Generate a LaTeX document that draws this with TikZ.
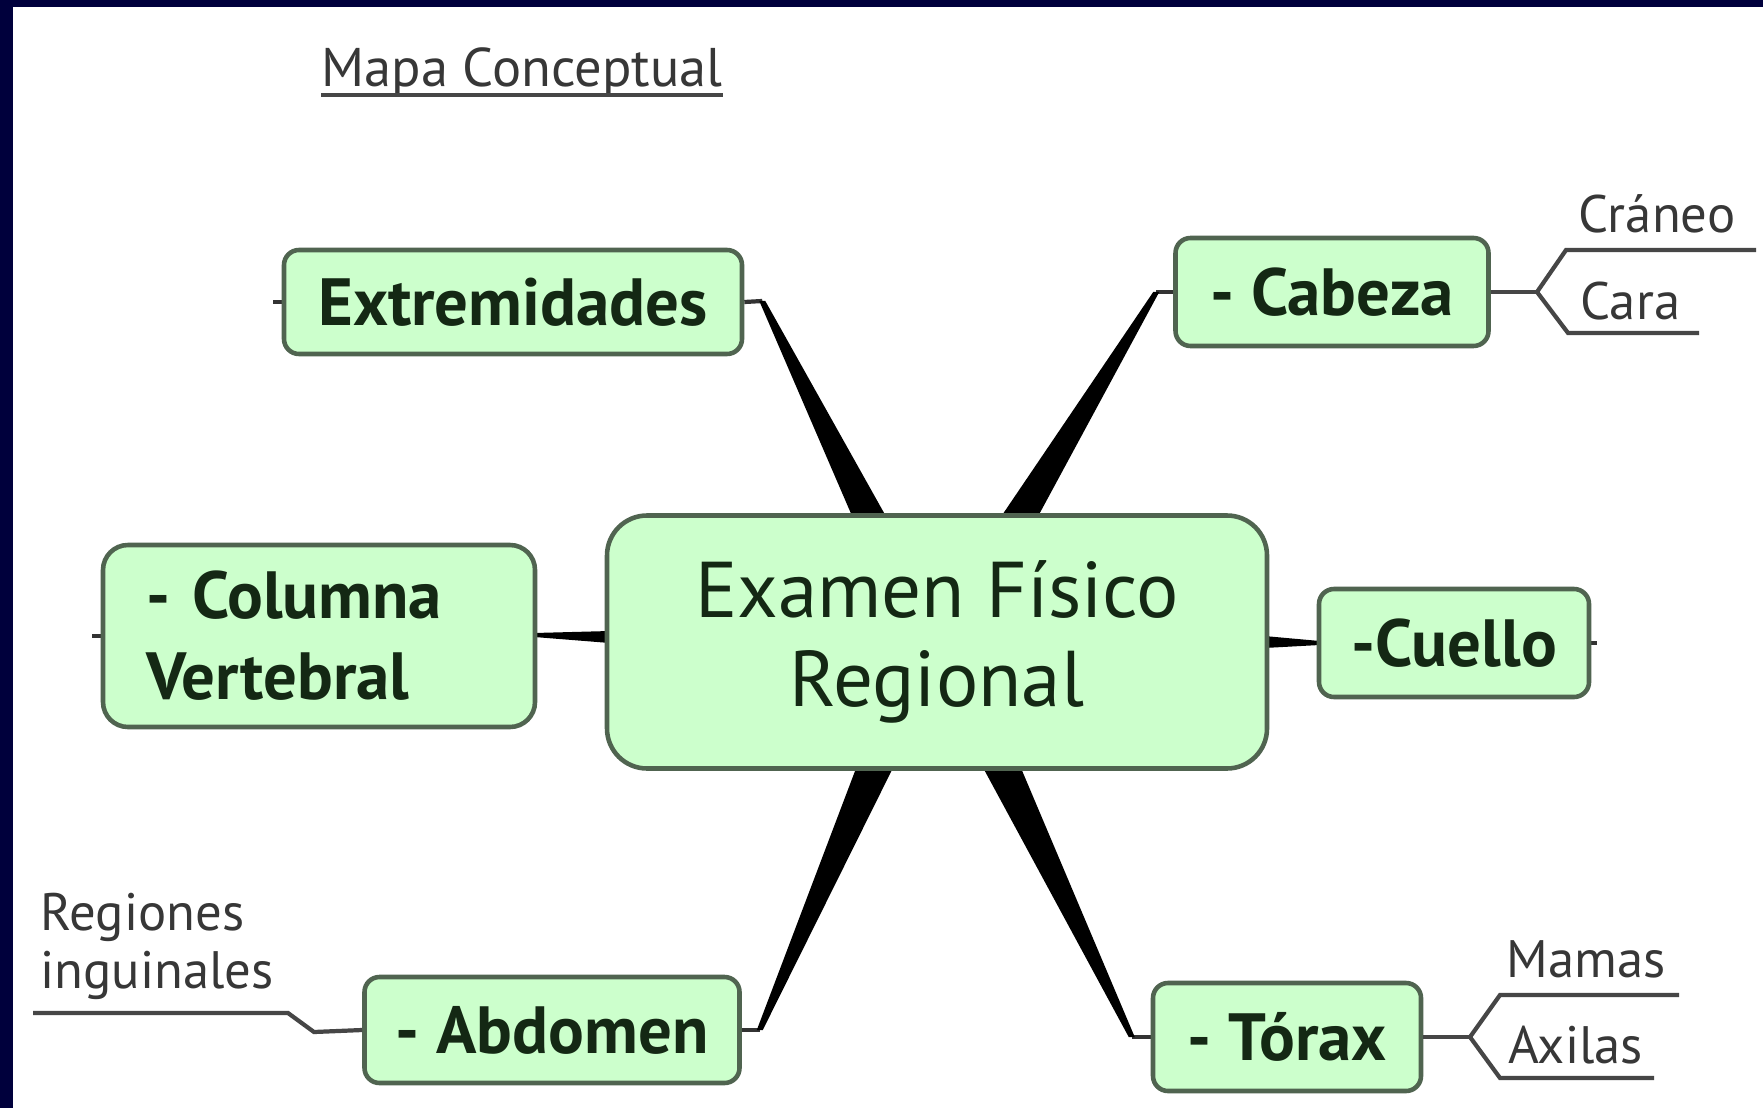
\documentclass[tikz,border=0pt]{standalone}
\usepackage{fontspec}
\setmainfont{PT Sans}
\usetikzlibrary{calc,backgrounds}

\definecolor{navy}{RGB}{0,0,60}
\definecolor{boxfill}{RGB}{204,255,204}
\definecolor{boxline}{RGB}{80,100,80}
\definecolor{boxtext}{RGB}{20,40,20}
\definecolor{leaftext}{RGB}{55,55,55}
\definecolor{leafline}{RGB}{70,70,70}

\tikzset{
  topic/.style={draw=boxline, line width=1.3pt, fill=boxfill, rounded corners=1.5mm,
    text=boxtext, font=\fontsize{19}{23}\selectfont\bfseries, inner sep=0pt},
  central/.style={topic, rounded corners=4mm, align=center,
    font=\fontsize{22.5}{25.5}\selectfont},
  leaf/.style={text=leaftext, font=\fontsize{15}{16.5}\selectfont, inner sep=0pt},
  branch/.style={draw=leafline, line width=1.2pt},
  stub/.style={draw=black!80, line width=1.2pt},
  wedge/.style={fill=black},
}

\begin{document}
\begin{tikzpicture}[x=0.1mm, y=-0.1mm]
  \useasboundingbox (0,0) rectangle (1763,1108);

  % central topic
  \node[central, minimum width=66mm, minimum height=25.3mm] (exam) at (937,642) {Examen Físico\\Regional};

  % main topics
  \node[topic, minimum width=45.8mm, minimum height=10.4mm] (extr) at (513,302) {Extremidades};
  \node[topic, minimum width=31.3mm, minimum height=10.8mm] (cabe) at (1332,292) {- Cabeza};
  \node[topic, rounded corners=2.5mm, inner xsep=4.3mm, text width=34.6mm, align=left,
        minimum height=18.2mm] (colu) at (319,636) {- Columna\\Vertebral};
  \node[topic, minimum width=27mm, minimum height=10.8mm] (cuel) at (1454,643) {-Cuello};
  \node[topic, minimum width=37.5mm, minimum height=10.6mm] (abdo) at (552,1030) {- Abdomen};
  \node[topic, minimum width=26.8mm, minimum height=10.8mm] (tora) at (1287,1037) {- Tórax};

  % subtopics
  \node[leaf, anchor=base west] (cran) at (1578,233) {Cráneo};
  \node[leaf, anchor=base west] (cara) at (1580,320) {Cara};
  \node[leaf, anchor=base west] (mama) at (1506,977) {Mamas};
  \node[leaf, anchor=base west] (axil) at (1508,1063) {Axilas};
  \node[leaf, anchor=north west, align=left] (ingu) at (40,892) {Regiones\\inguinales};

  % title
  \node[leaf, font=\fontsize{15.5}{18}\selectfont, anchor=base west] (titl) at (321,87) {Mapa Conceptual};
  \draw[leafline, line width=1.2pt] ($(titl.base west)+(0,8)$) -- ($(titl.base east)+(0,8)$);

  \begin{scope}[on background layer]
    % frame
    \fill[navy] (0,0) rectangle (1763,1108);
    \fill[white] (13,7) rectangle (1763,1108);

    % knots
    \coordinate (extrk) at ($(extr.east)+(18,-1)$);
    \coordinate (cabek) at ($(cabe.west)+(-17,0)$);
    \coordinate (abdok) at ($(abdo.east)+(18,0)$);
    \coordinate (torak) at ($(tora.west)+(-19,0)$);

    % tapered connectors
    \draw[stub] (extr.east) -- (extrk);
    \fill[wedge] ($(extrk)+(-3,0)$) -- ($(extrk)+(3,0)$) -- ($(exam.north)+(-50,5)$) -- ($(exam.north)+(-84,5)$) -- cycle;
    \draw[stub] (cabe.west) -- (cabek);
    \fill[wedge] ($(cabek)+(-3,0)$) -- ($(cabek)+(3,0)$) -- ($(exam.north)+(100,5)$) -- ($(exam.north)+(63,5)$) -- cycle;
    \draw[stub] (abdo.east) -- (abdok);
    \fill[wedge] ($(abdok)+(-3,0)$) -- ($(abdok)+(3,0)$) -- ($(exam.south)+(-43,-5)$) -- ($(exam.south)+(-80,-5)$) -- cycle;
    \draw[stub] (tora.west) -- (torak);
    \fill[wedge] ($(torak)+(-3,0)$) -- ($(torak)+(3,0)$) -- ($(exam.south)+(83,-5)$) -- ($(exam.south)+(45,-5)$) -- cycle;
    \fill[wedge] ($(colu.east)+(-3,-3)$) -- ($(colu.east)+(-3,1)$) -- ($(exam.west)+(5,1)$) -- ($(exam.west)+(5,-11)$) -- cycle;
    \fill[wedge] ($(exam.east)+(-5,-6)$) -- ($(exam.east)+(-5,6)$) -- ($(cuel.west)+(3,2)$) -- ($(cuel.west)+(3,-2)$) -- cycle;

    % collapse stubs
    \draw[stub] (extr.west) -- ++(-9,0);
    \draw[stub] (colu.west) -- ++(-9,0);
    \draw[stub] (cuel.east) -- ++(6,0);
  \end{scope}

  % branches to subtopics
  \coordinate (cabb) at (1537,292);
  \draw[branch] (cabe.east) -- (cabb);
  \draw[branch] (cabb) -- (1566,250) -- (1756,250);
  \draw[branch] (cabb) -- (1568,333) -- (1699,333);
  \coordinate (torb) at (1470,1037);
  \draw[branch] (tora.east) -- (torb);
  \draw[branch] (torb) -- (1500,995) -- (1679,995);
  \draw[branch] (torb) -- (1500,1078) -- (1654,1078);
  \draw[branch] (abdo.west) -- (314,1032) -- (288,1013) -- (33,1013);
\end{tikzpicture}
\end{document}
